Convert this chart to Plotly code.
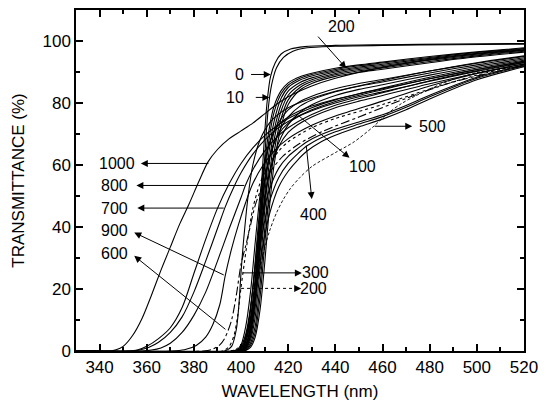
import plotly.graph_objects as go

# ---------------- data ----------------
wl_c0 = [330, 400, 402, 404, 406, 408, 409.5, 411, 412.5, 414.5, 417, 421, 427, 440, 460, 490, 520]
t_c0 = [0, 0, 1.5, 7, 22, 45, 64, 80, 88.5, 93, 95.8, 97.4, 98.2, 98.6, 98.8, 99.0, 99.2]
wl_c10 = [330, 400, 402, 404, 406, 408, 410, 411.5, 413, 415, 418, 422, 428, 440, 460, 490, 520]
t_c10 = [0, 0, 1, 5, 17, 38, 62, 78, 86, 91.3, 94.7, 96.7, 97.8, 98.3, 98.6, 98.8, 99.0]

wl_b = [330, 400, 402, 404, 406, 408, 410, 412, 414, 417, 420, 425, 430, 440, 450, 460, 480, 500, 520]
t_b1 = [0, 0.3, 2, 8, 22, 42, 60, 72, 79, 84, 86.5, 88.5, 89.6, 91.2, 92.3, 93.2, 95.0, 96.5, 97.8]
t_b2 = [0, 0.2, 1.5, 6, 17, 35, 55, 69, 77, 83, 85.8, 88, 89.2, 90.8, 92.0, 92.9, 94.7, 96.3, 97.6]
t_b3 = [0, 0.1, 1, 4.5, 14, 31, 50, 65, 74, 81.5, 85, 87.4, 88.7, 90.4, 91.6, 92.5, 94.4, 96.0, 97.4]
t_b4 = [0, 0, 0.7, 3.5, 11, 26, 45, 61, 71, 79.5, 83.8, 86.6, 88.1, 90.0, 91.2, 92.1, 94.1, 95.8, 97.2]
t_b5 = [0, 0, 0.5, 2.5, 8, 21, 39, 56, 68, 77.5, 82.5, 85.8, 87.5, 89.5, 90.8, 91.7, 93.8, 95.5, 97.0]
t_b6 = [0, 0, 0.3, 1.8, 6, 17, 34, 51, 64, 75, 81, 85, 86.9, 89.1, 90.4, 91.3, 93.4, 95.2, 96.7]
t_b7 = [0, 0, 0.2, 1.2, 4.5, 13, 28, 46, 60, 72.5, 79.5, 84.2, 86.3, 88.6, 89.9, 90.9, 93.0, 94.9, 96.4]

wl_c = [330, 399, 401, 403, 405, 407, 409, 411, 414, 417, 420, 425, 430, 440, 450, 460, 480, 500, 520]
t_cc1 = [0, 0.3, 2, 8, 20, 38, 54, 64, 71, 75, 77.8, 80.5, 82.2, 84.6, 86.3, 87.6, 90.3, 92.8, 95.0]
t_cc2 = [0, 0.2, 1.3, 5.5, 15, 31, 47, 59, 67, 72, 75.5, 79, 81, 83.6, 85.4, 86.8, 89.7, 92.3, 94.6]
t_cc3 = [0, 0.1, 0.8, 4, 11, 25, 41, 54, 63, 69, 73, 77, 79.4, 82.4, 84.4, 85.9, 89.0, 91.8, 94.2]

wl_d = [330, 398, 400, 402, 404, 406, 408, 410, 413, 416, 420, 424, 430, 440, 450, 460, 480, 500, 520]
t_d1 = [0, 0.3, 2, 8, 19, 35, 50, 61, 69, 73, 75.5, 77.2, 79.0, 81.2, 83.0, 84.6, 87.8, 90.8, 93.5]
t_d2 = [0, 0.2, 1.3, 5.5, 14, 28, 43, 55, 65, 70, 73.5, 75.5, 77.5, 80.0, 82.0, 83.6, 87.0, 90.2, 93.0]
t_d3 = [0, 0.1, 0.8, 4, 10, 22, 36, 49, 60, 66, 70.5, 73, 75.5, 78.5, 80.6, 82.4, 86.2, 89.6, 92.6]

wl_e = [330, 399, 401, 403, 405, 407, 409, 412, 416, 420, 424, 428, 434, 440, 450, 460, 470, 480, 500, 520]
t_e1 = [0, 0.3, 2, 8, 20, 33, 43, 52, 59, 62.8, 65.3, 67.5, 69.8, 71.5, 73.9, 76.2, 79.2, 82.5, 88.3, 92.3]
t_e2 = [0, 0.2, 1.3, 6, 16, 28, 38, 48, 56, 60.5, 63.6, 66.2, 68.8, 70.7, 73.2, 75.6, 78.6, 82.0, 88.0, 92.0]
t_e3 = [0, 0.1, 0.8, 4, 12, 23, 33, 44, 53, 58, 61.6, 64.5, 67.5, 69.6, 72.3, 74.8, 77.8, 81.3, 87.5, 91.7]

wl_500 = [330, 397, 400, 402, 404, 406, 409, 412, 415, 418, 421, 425, 430, 440, 448, 456, 462, 468, 474, 482, 490, 500, 510, 520]
t_500 = [0, 0.3, 2, 5, 10.5, 18, 30, 38.5, 44.5, 49, 52.5, 56, 59.5, 64, 67.5, 72.3, 76.5, 79.8, 82.3, 85.2, 87.6, 89.8, 91.0, 91.8]

wl_1000 = [330, 344, 347, 350, 354, 358, 362, 366, 370, 374, 378, 382, 386, 390, 395, 400, 405, 410, 415, 420, 430, 440, 460, 480, 500, 520]
t_1000 = [0, 0, 0.4, 1.5, 5, 10.5, 18, 26, 33.5, 41, 47.5, 54.5, 61, 65, 68.5, 71, 73.5, 76.5, 79.5, 82, 85.5, 88, 91.5, 94, 95.8, 97]

wl_m1 = [330, 352, 356, 360, 365, 370, 375, 380, 385, 390, 395, 400, 405, 410, 415, 420, 430, 440, 460, 480, 500, 520]
t_m1 = [0, 0, 0.3, 1.5, 4, 7.5, 14, 25, 36, 46, 54, 60.5, 65.5, 69.5, 72.5, 75, 78.5, 81, 84.8, 88.3, 91.3, 93.8]

wl_700 = [330, 353, 357, 361, 365, 370, 375, 380, 385, 390, 393.3, 397, 400, 405, 410, 415, 420, 430, 440, 460, 480, 500, 520]
t_700 = [0, 0, 0.3, 1.2, 2.8, 6, 11, 19, 29, 39.5, 46.5, 53, 57.5, 63.5, 68, 71.5, 74, 77.8, 80.5, 84.3, 87.8, 90.8, 93.3]

wl_800 = [330, 358, 362, 366, 370, 375, 380, 385, 390, 395, 400, 402, 405, 410, 415, 420, 430, 440, 460, 480, 500, 520]
t_800 = [0, 0, 0.3, 1, 2.5, 6, 11.5, 19, 29, 39.5, 49.5, 53.7, 58.5, 64.5, 68.8, 72, 76.3, 79.3, 83.3, 87.2, 90.4, 93.1]

wl_900 = [330, 370, 376, 381, 385, 388, 391, 393.3, 396, 399, 402, 405, 409, 414, 420, 430, 440, 460, 480, 500, 520]
t_900 = [0, 0, 0.4, 1.8, 4.5, 8.5, 15, 24.3, 33, 41, 48, 54, 59.5, 64.5, 68.5, 72.8, 75.8, 80.6, 85.5, 89.5, 92.6]

wl_600 = [330, 384, 388, 391, 393, 394.5, 396, 398, 400, 402, 404, 406, 409, 413, 418, 425, 435, 450, 470, 490, 520]
t_600 = [0, 0, 0.6, 2, 4, 6.6, 10, 18, 28, 34, 40.5, 47, 53, 58.5, 63, 67, 71, 75.5, 81.5, 86.8, 92]

wl_300 = [330, 393, 396, 398, 399, 400, 401, 403, 405, 408, 412, 416, 420, 430, 440, 460, 480, 500, 520]
t_300 = [0, 0, 1.5, 7, 14, 25.4, 35, 50, 60, 68, 73.5, 76.5, 78.5, 81.5, 83.8, 87.2, 90.3, 93, 95.2]

wl_200d = [330, 392, 395, 397, 398.5, 400, 401.5, 403, 405, 408, 412, 416, 420, 430, 440, 460, 480, 500, 520]
t_200d = [0, 0, 1.5, 5, 11, 20.6, 29, 37, 46, 54, 60.5, 64.5, 67.5, 72, 75, 79.5, 84.5, 89, 92.5]

# label texts and their positions (wavelength, transmittance)
label_text = ["200", "0", "10", "1000", "800", "700", "900", "600", "300", "200", "400", "100", "500"]
label_x = [442.7, 399.4, 397.3, 347.2, 346.2, 346.2, 346.2, 346.2, 431.4, 430.7, 430.7, 451.6, 481.0]
label_y = [104.6, 89.2, 81.8, 60.5, 53.4, 46.1, 38.8, 31.3, 25.2, 20.2, 44.1, 59.6, 72.5]

# arrows: tail (ax, ay) -> head (hx, hy)
arrow_tail_x = [432.1, 403.6, 405.6, 386.8, 402.0, 393.3, 393.3, 394.0, 400.0, 427.6, 423.8, 456.0]
arrow_tail_y = [101.9, 89.2, 81.8, 60.5, 53.4, 46.1, 24.3, 6.6, 25.2, 66.7, 76.3, 72.5]
arrow_head_x = [444.6, 412.6, 412.0, 357.5, 355.6, 356.0, 354.7, 354.7, 425.8, 430.0, 446.0, 472.6]
arrow_head_y = [91.2, 89.2, 81.8, 60.5, 53.4, 46.1, 38.2, 30.7, 25.2, 49.0, 62.3, 72.5]

# dotted arrow (200, lower)
dot_tail = (400.0, 20.2)
dot_head = (425.5, 20.2)

x_ticks = [340, 360, 380, 400, 420, 440, 460, 480, 500, 520]
y_ticks = [0, 20, 40, 60, 80, 100]

# ---------------- figure ----------------
fig = go.Figure()

solid = [
    (wl_c0, t_c0), (wl_c10, t_c10),
    (wl_b, t_b1), (wl_b, t_b2), (wl_b, t_b3), (wl_b, t_b4), (wl_b, t_b5), (wl_b, t_b6), (wl_b, t_b7),
    (wl_c, t_cc1), (wl_c, t_cc2), (wl_c, t_cc3),
    (wl_d, t_d1), (wl_d, t_d2), (wl_d, t_d3),
    (wl_e, t_e1), (wl_e, t_e2), (wl_e, t_e3),
    (wl_1000, t_1000), (wl_m1, t_m1), (wl_700, t_700), (wl_800, t_800), (wl_900, t_900),
    (wl_300, t_300),
]
for xs, ys in solid:
    fig.add_trace(go.Scatter(x=xs, y=ys, mode="lines",
                             line=dict(color="black", width=1.1, shape="spline", smoothing=0.8),
                             hoverinfo="skip"))

fig.add_trace(go.Scatter(x=wl_500, y=t_500, mode="lines",
                         line=dict(color="black", width=0.9, dash="3px,2px", shape="spline", smoothing=0.8)))
fig.add_trace(go.Scatter(x=wl_600, y=t_600, mode="lines",
                         line=dict(color="black", width=1.1, dash="dashdot", shape="spline", smoothing=0.8)))
fig.add_trace(go.Scatter(x=wl_200d, y=t_200d, mode="lines",
                         line=dict(color="black", width=1.1, dash="dot", shape="spline", smoothing=0.8)))

for t, x, y in zip(label_text, label_x, label_y):
    fig.add_annotation(x=x, y=y, text=t, showarrow=False, xref="x", yref="y",
                       font=dict(size=16, color="black"), xanchor="center", yanchor="middle")

for tx, ty, hx, hy in zip(arrow_tail_x, arrow_tail_y, arrow_head_x, arrow_head_y):
    fig.add_annotation(x=hx, y=hy, ax=tx, ay=ty, xref="x", yref="y", axref="x", ayref="y",
                       text="", showarrow=True, arrowhead=2, arrowsize=1.4, arrowwidth=1,
                       arrowcolor="black", standoff=0, startstandoff=0)

fig.add_shape(type="line", x0=dot_tail[0], y0=dot_tail[1], x1=dot_head[0] - 2, y1=dot_head[1],
              xref="x", yref="y", line=dict(color="black", width=1, dash="dot"))
fig.add_annotation(x=dot_head[0], y=dot_head[1], ax=dot_head[0] - 2.5, ay=dot_head[1],
                   xref="x", yref="y", axref="x", ayref="y",
                   text="", showarrow=True, arrowhead=2, arrowsize=1.4, arrowwidth=1,
                   arrowcolor="black", standoff=0)

axis_common = dict(showgrid=False, zeroline=False, showline=True, linecolor="black", linewidth=1.5,
                   ticks="inside", ticklen=7, tickwidth=1.5, tickcolor="black", mirror="ticks",
                   tickfont=dict(size=17, color="black"))

fig.update_xaxes(range=[330, 520], tickvals=x_ticks,
                 minor=dict(ticks="inside", ticklen=4, tickwidth=1.5, dtick=10, tick0=330, tickcolor="black"),
                 title=dict(text="WAVELENGTH (nm)", font=dict(size=17, color="black"), standoff=9),
                 **axis_common)
fig.update_yaxes(range=[0, 110], tickvals=y_ticks,
                 minor=dict(ticks="inside", ticklen=4, tickwidth=1.5, dtick=10, tick0=0, tickcolor="black"),
                 title=dict(text="TRANSMITTANCE (%)", font=dict(size=17, color="black"), standoff=14),
                 **axis_common)

fig.update_layout(width=546, height=410, margin=dict(l=76, r=16, t=8, b=59),
                  paper_bgcolor="white", plot_bgcolor="white", showlegend=False,
                  font=dict(family="Liberation Sans, Arial, sans-serif", color="black"))

fig.write_html("out.html")
